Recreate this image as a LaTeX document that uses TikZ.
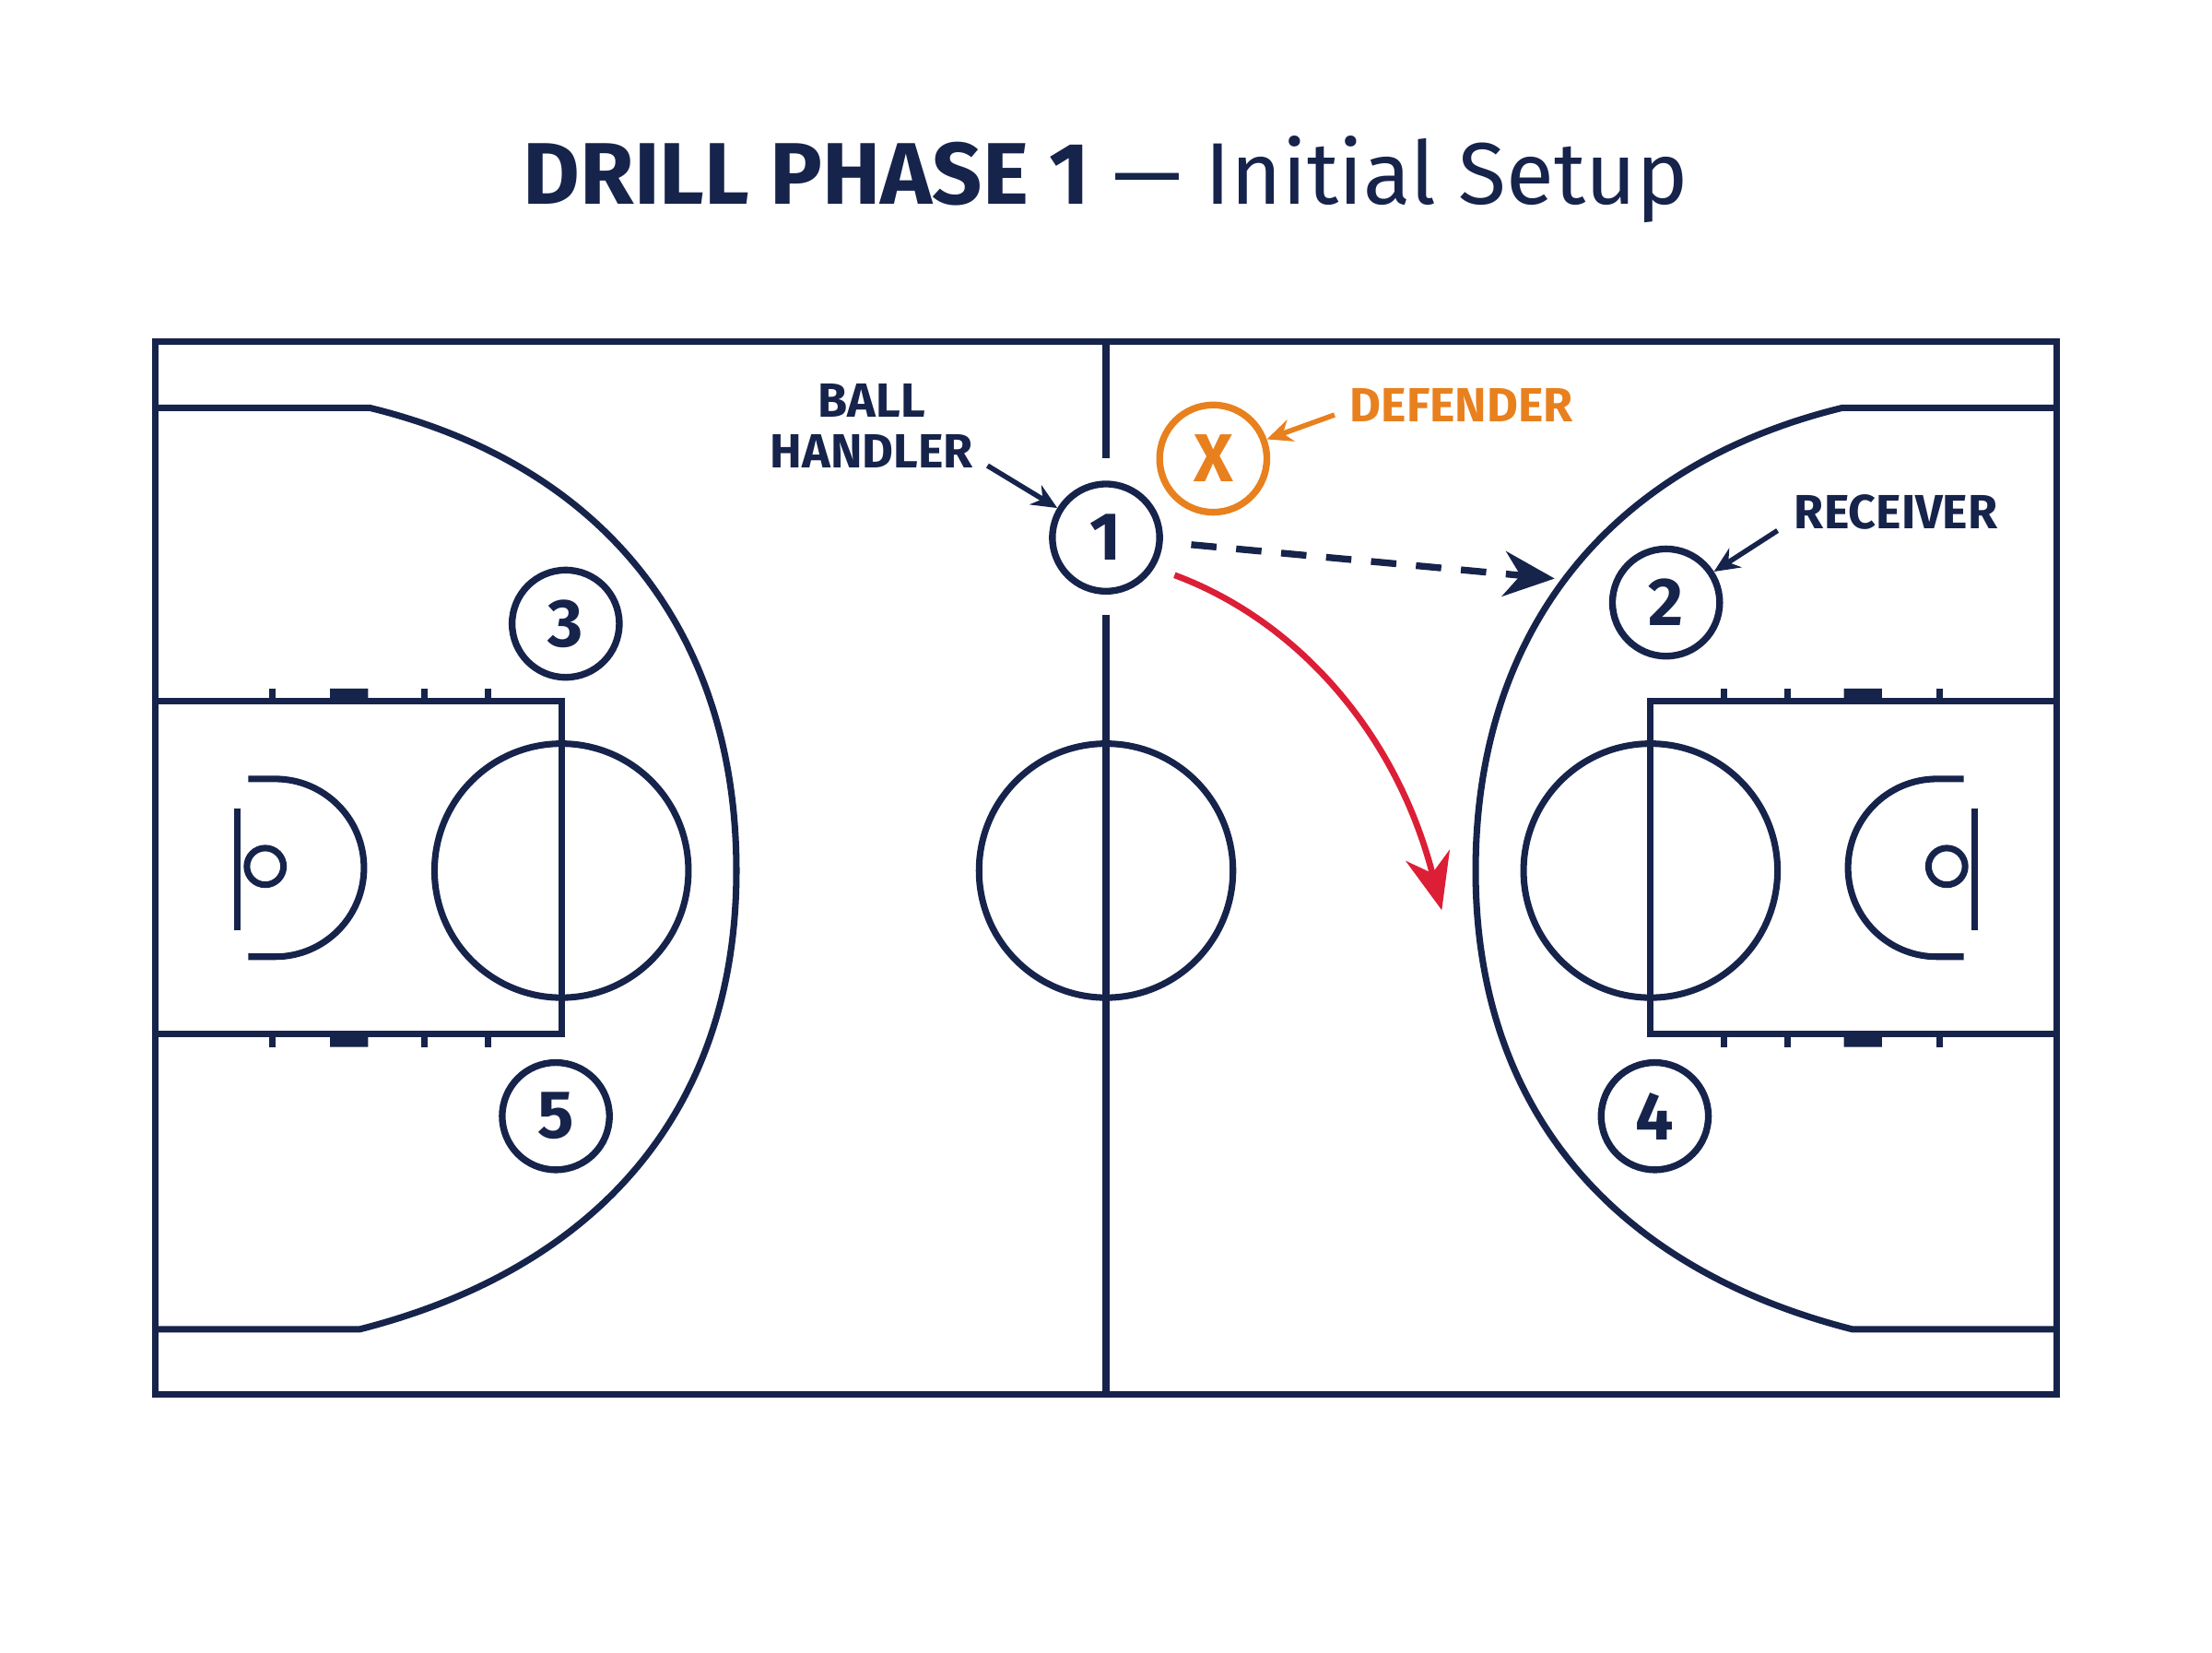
\documentclass[tikz,border=0pt]{standalone}
\usepackage{fontspec}
\setmainfont{Fira Sans}
\usetikzlibrary{arrows.meta}
\definecolor{navy}{RGB}{22,35,75}
\definecolor{dorange}{RGB}{232,128,30}
\definecolor{dred}{RGB}{220,30,55}
\tikzset{every picture/.style={line width=2pt}}
\tikzset{court/.style={draw=navy,line width=2.3pt},
  player/.style={circle,draw=navy,line width=2.4pt,fill=white,minimum size=38pt,inner sep=0pt,font=\fontsize{24}{24}\selectfont\bfseries,text=navy},
  tag/.style={font=\fontsize{17}{18}\selectfont\bfseries,align=center,inner sep=0.75pt},
  callout/.style={-{Stealth[length=9pt,width=8pt]},line width=1.8pt}}

\begin{document}
\begin{tikzpicture}[x=0.5pt,y=0.5pt,yscale=-1,xscale=1]
	\useasboundingbox[fill=white] (0,0) rectangle (1568,1171);

	% Title
	\node (title) at (784,127) {\color{navy}\fontsize{31}{32}\selectfont\textbf{DRILL PHASE 1} — Initial Setup};

	%Shape: Court outline
	\draw [court] (110,242) rectangle (1458,988);
	%Straight Lines: midline
	\draw [court] (784,242) -- (784,325) (784,436) -- (784,988);
	%Shape: centre circle
	\draw [court] (784,617) circle [radius=90];

	% both halves, the right one mirrored
	\foreach \s/\o in {1/0,-1/1568}{
	\begin{scope}[shift={(\o,0)},xscale=\s]
		%Three point line
		\draw [court] (110,289) -- (262,289) .. controls (430,330) and (522,450) .. (522,617) .. controls (522,790) and (420,900) .. (255,942) -- (110,942);
		%Lane
		\draw [court] (110,497) -- (398,497) -- (398,733) -- (110,733);
		%Free throw circle
		\draw [court] (398,617) circle [radius=90];
		%Hash marks
		\foreach \hx in {193,301,346}{
			\draw [court] (\hx,488) -- (\hx,497) (\hx,733) -- (\hx,742);}
		\fill [navy] (234,488) rectangle (261,497) (234,733) rectangle (261,742);
		%Backboard, rim, restricted arc
		\draw [court] (168,573) -- (168,659);
		\draw [court] (188,614) circle [radius=13];
		\draw [court] (176,552) -- (195,552) arc [start angle=-90,end angle=90,radius=63] -- (176,678);
	\end{scope}}

	% Players
	\node [player] (p1) at (784,381) {1};
	\node [player] (p2) at (1181,427) {2};
	\node [player] (p3) at (401,442) {3};
	\node [player] (p4) at (1173,791) {4};
	\node [player] (p5) at (394,791) {5};
	\node [player,draw=dorange,text=dorange] (dx) at (860,325) {X};

	% Text Node
	\node [tag,text=navy] (lball) at (618,302) {BALL\\HANDLER};
	\node [tag,text=dorange] (ldef) at (1036,287) {DEFENDER};
	\node [tag,text=navy] (lrec) at (1344,363) {RECEIVER};
	\coordinate (cball) at (700,330);
	\coordinate (cdef) at (946,294);
	\coordinate (crec) at (1260,376);
	\draw [callout,navy] (cball) -- (p1);
	\draw [callout,dorange] (cdef) -- (dx);
	\draw [callout,navy] (crec) -- (p2);

	% Pass and cut
	\coordinate (pass) at (1102,410);
	\coordinate (cut) at (1022,645);
	\draw [navy,line width=2.4pt,dash pattern=on 9pt off 7pt,-{Stealth[length=18pt,width=16pt]}] (p1.east) ++(20,5) -- (pass);
	\draw [dred,line width=2.2pt,-{Stealth[length=20pt,width=16pt]}] (p1.south east) ++(20,-2) .. controls (920,440) and (990,520) .. (cut);
\end{tikzpicture}
\end{document}
